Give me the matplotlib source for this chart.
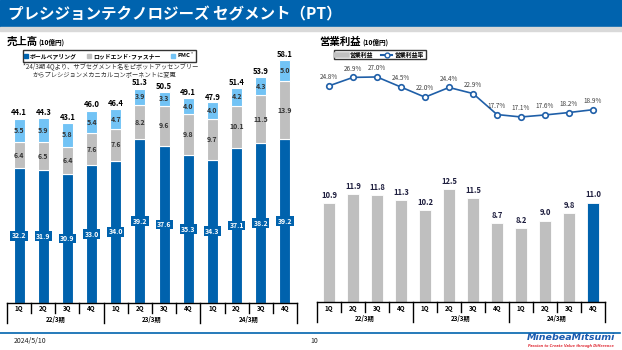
import matplotlib
matplotlib.use("Agg")
import matplotlib.pyplot as plt
from matplotlib.lines import Line2D
from matplotlib.patches import Patch, Rectangle

plt.rcParams["font.family"] = ["Noto Sans CJK JP", "DejaVu Sans"]

# データ (10億円)
quarters = ["1Q", "2Q", "3Q", "4Q"] * 3
fiscal_years = ["22/3期", "23/3期", "24/3期"]
ball_bearing = [32.2, 31.9, 30.9, 33.0, 34.0, 39.2, 37.6, 35.3, 34.3, 37.1, 38.2, 39.2]
rod_end = [6.4, 6.5, 6.4, 7.6, 7.6, 8.2, 9.6, 9.8, 9.7, 10.1, 11.5, 13.9]
pmc = [5.5, 5.9, 5.8, 5.4, 4.7, 3.9, 3.3, 4.0, 4.0, 4.2, 4.3, 5.0]
sales_total = [44.1, 44.3, 43.1, 46.0, 46.4, 51.3, 50.5, 49.1, 47.9, 51.4, 53.9, 58.1]
op_profit = [10.9, 11.9, 11.8, 11.3, 10.2, 12.5, 11.5, 8.7, 8.2, 9.0, 9.8, 11.0]
op_margin = [24.8, 26.9, 27.0, 24.5, 22.0, 24.4, 22.9, 17.7, 17.1, 17.6, 18.2, 18.9]

BLUE = "#0062AD"
GRAY = "#BFBFBF"
LIGHT = "#72C3F5"
HEADER = "#0063AE"

W, H = 622, 350
fig = plt.figure(figsize=(W / 100, H / 100), dpi=100)


def px_axes(x0, x1, y_top, y_base):
    ax = fig.add_axes([x0 / W, (H - y_base) / H, (x1 - x0) / W, (y_base - y_top) / H])
    ax.set_axis_off()
    return ax


def fig_text(x, y, s, **kw):
    fig.text(x / W, 1 - y / H, s, **kw)


def category_axis(ax, h_px):
    tr = ax.get_xaxis_transform()
    n = len(quarters)
    ax.plot([-0.5, n - 0.5], [0, 0], color="black", lw=1, transform=tr, clip_on=False)
    for i in range(n + 1):
        depth = 20 if i % 4 == 0 else 10
        ax.plot([i - 0.5, i - 0.5], [0, -depth / h_px], color="black", lw=1,
                transform=tr, clip_on=False)
    for i, q in enumerate(quarters):
        ax.text(i, -6 / h_px, q, transform=tr, ha="center", va="center",
                fontsize=4.5, fontweight="bold")
    for k, fy in enumerate(fiscal_years):
        ax.text(4 * k + 1.5, -16 / h_px, fy, transform=tr, ha="center", va="center",
                fontsize=4.5, fontweight="bold")
    ax.set_xlim(-0.5, n - 0.5)


# ヘッダー
fig.patches.append(Rectangle((0, 1 - 27 / H), 1, 27 / H, transform=fig.transFigure,
                             color=HEADER, zorder=0))
fig.patches.append(Rectangle((0, 1 - 31 / H), 1, 4 / H, transform=fig.transFigure,
                             color="#D9D9D9", zorder=0))
fig_text(8, 14, "プレシジョンテクノロジーズ セグメント（PT）", color="white",
         fontsize=11.2, fontweight="bold", va="center")

# 売上高
x = list(range(len(quarters)))
ax1 = px_axes(7, 297, 40, 303)
ax1.set_ylim(0, 263 / 4.18)
ax1.bar(x, ball_bearing, width=0.46, color=BLUE, edgecolor="white", lw=0.8)
bottom2 = ball_bearing
ax1.bar(x, rod_end, width=0.46, bottom=bottom2, color=GRAY, edgecolor="white", lw=0.8)
bottom3 = [a + b for a, b in zip(ball_bearing, rod_end)]
ax1.bar(x, pmc, width=0.46, bottom=bottom3, color=LIGHT, edgecolor="white", lw=0.8)
for i in x:
    ax1.text(i, ball_bearing[i] / 2, f"{ball_bearing[i]:.1f}", ha="center", va="center",
             fontsize=5, fontweight="bold", color="white",
             bbox=dict(boxstyle="square,pad=0.2", fc=BLUE, ec="none"))
    ax1.text(i, bottom2[i] + rod_end[i] / 2, f"{rod_end[i]:.1f}", ha="center",
             va="center", fontsize=5, fontweight="bold", color="#333333")
    ax1.text(i, bottom3[i] + pmc[i] / 2, f"{pmc[i]:.1f}", ha="center",
             va="center", fontsize=5, fontweight="bold", color="#333333")
    ax1.text(i, sales_total[i] + 0.3, f"{sales_total[i]:.1f}", ha="center",
             va="bottom", fontsize=5.5, fontweight="bold", color="black")
category_axis(ax1, 263)

fig_text(7, 42, "売上高", fontsize=7.5, fontweight="bold", va="center")
fig_text(38, 42.5, "(10億円)", fontsize=4.8, fontweight="bold", va="center")
leg1 = fig.legend(
    handles=[Patch(color=BLUE), Patch(color=GRAY), Patch(color=LIGHT)],
    labels=["ボールベアリング", "ロッドエンド･ファスナー", "PMC$^*$"],
    loc="upper left", bbox_to_anchor=(20 / W, 1 - 47 / H), ncol=3,
    fontsize=4.2, frameon=True, fancybox=False, edgecolor="black",
    handlelength=0.6, handleheight=0.6, columnspacing=1.8, handletextpad=0.4,
    borderpad=0.2,
)
leg1.get_frame().set_linewidth(1.0)
for t in leg1.get_texts():
    t.set_fontweight("bold")
fig_text(111, 66.5, "*24/3期 4Qより、サブセグメント名をピボットアッセンブリー",
         fontsize=4.5, color="#333333", ha="center", va="center")
fig_text(104, 74, "からプレシジョンメカニカルコンポーネントに変更",
         fontsize=4.5, color="#333333", ha="center", va="center")

# 営業利益
ax2 = px_axes(317, 605, 40, 302)
ax2.set_ylim(0, 262 / 9.04)
colors = [GRAY] * (len(op_profit) - 1) + [BLUE]
ax2.bar(x, op_profit, width=0.5, color=colors, edgecolor="white", lw=0.6)
for i in x:
    ax2.text(i, op_profit[i] + 0.35, f"{op_profit[i]:.1f}", ha="center", va="bottom",
             fontsize=5.5, fontweight="bold", color="#1F1F3F")
category_axis(ax2, 262)

ax3 = px_axes(317, 605, 40, 302)
ax3.set_ylim(-28.7, -28.7 + 262 / 4.04)
ax3.set_xlim(-0.5, len(quarters) - 0.5)
ax3.plot(x, op_margin, color="#1F5FA8", lw=1.2, marker="o", ms=4,
         mfc="white", mec="#1F5FA8", mew=1.2)
for i in x:
    ax3.text(i, op_margin[i] + 1.2, f"{op_margin[i]:.1f}%", ha="center", va="bottom",
             fontsize=4.6, color="#404040")

fig_text(319, 42, "営業利益", fontsize=7.5, fontweight="bold", va="center")
fig_text(362, 42.5, "(10億円)", fontsize=4.8, fontweight="bold", va="center")
leg2 = fig.legend(
    handles=[Line2D([], [], color=GRAY, lw=4),
             Line2D([], [], color="#1F5FA8", lw=1.5, marker="o", ms=3.5,
                    mfc="white", mec="#1F5FA8")],
    labels=["営業利益", "営業利益率"],
    loc="upper left", bbox_to_anchor=(331 / W, 1 - 47 / H), ncol=2,
    fontsize=4.2, frameon=True, fancybox=False, edgecolor="black",
    handlelength=2.0, columnspacing=1.3, handletextpad=0.4, borderpad=0.3,
)
leg2.get_frame().set_linewidth(1.0)
for t in leg2.get_texts():
    t.set_fontweight("bold")

# フッター
fig.lines.append(Line2D([0, 620 / W], [1 - 333 / H, 1 - 333 / H], transform=fig.transFigure,
                        color=HEADER, lw=1.2))
fig_text(14, 341, "2024/5/10", fontsize=5, va="center", color="#222222")
fig_text(310, 341, "10", fontsize=5, va="center", color="#222222")
fig_text(571, 338, "MinebeaMitsumi", fontsize=6.8, fontweight="bold", style="italic",
         color="#1B5CB0", ha="center", va="center", family="DejaVu Sans")
fig_text(571, 345.5, "Passion to Create Value through Difference", fontsize=2.5,
         fontweight="bold", style="italic", color="#E0303A", ha="center", va="center",
         family="DejaVu Sans")

fig.savefig("out.png", dpi=100)
